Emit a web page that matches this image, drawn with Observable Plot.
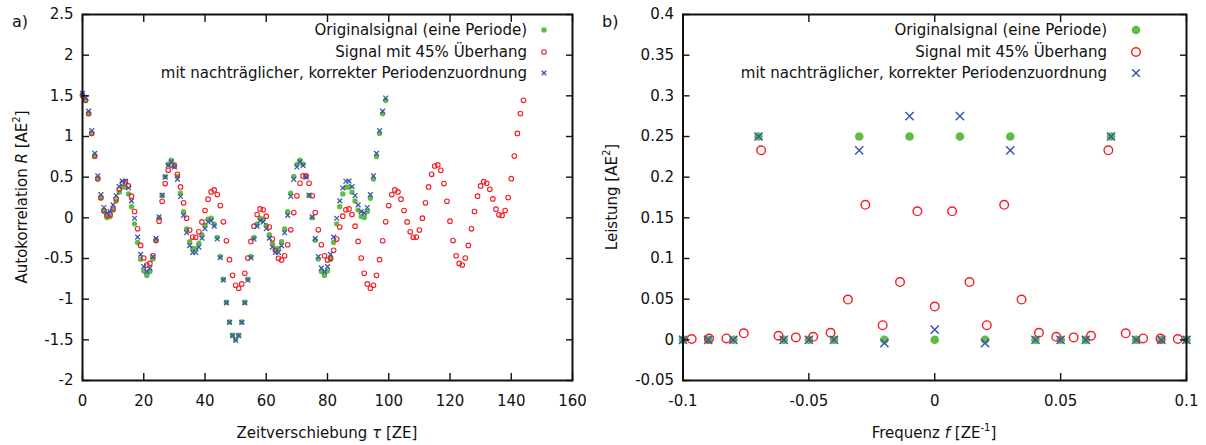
<!DOCTYPE html>
<html><head><meta charset="utf-8">
<script src="https://cdn.jsdelivr.net/npm/d3@7"></script>
<script src="https://cdn.jsdelivr.net/npm/@observablehq/plot@0.6"></script>
<style>
html,body{margin:0;padding:0;background:#fff;}
#wrap{position:relative;width:1206px;height:445px;overflow:hidden;background:#fff;}
#wrap svg{position:absolute;top:0;}
</style></head><body><div id="wrap"></div>
<script>
// ---------- Panel a) autocorrelation ----------
const origR = [1.5,1.443,1.28,1.038,0.755,0.476,0.24,0.078,0.005,0.017,0.095,0.207,0.314,0.379,0.377,0.294,0.136,-0.074,-0.303,-0.509,-0.655,-0.709,-0.659,-0.507,-0.275,0,0.275,0.507,0.659,0.709,0.655,0.509,0.303,0.074,-0.136,-0.294,-0.377,-0.379,-0.314,-0.207,-0.095,-0.017,-0.005,-0.078,-0.24,-0.476,-0.755,-1.038,-1.28,-1.443,-1.5,-1.443,-1.28,-1.038,-0.755,-0.476,-0.24,-0.078,-0.005,-0.017,-0.095,-0.207,-0.314,-0.379,-0.377,-0.294,-0.136,0.074,0.303,0.509,0.655,0.709,0.659,0.507,0.275,0,-0.275,-0.507,-0.659,-0.709,-0.655,-0.509,-0.303,-0.074,0.136,0.294,0.377,0.379,0.314,0.207,0.095,0.017,0.005,0.078,0.24,0.476,0.755,1.038,1.28,1.443];
const overhangR = [1.51,1.445,1.283,1.038,0.76,0.482,0.249,0.09,0.03,0.037,0.106,0.233,0.351,0.425,0.445,0.392,0.266,0.078,-0.135,-0.339,-0.494,-0.58,-0.56,-0.466,-0.28,-0.041,0.204,0.421,0.584,0.65,0.637,0.535,0.38,0.184,-0.004,-0.151,-0.237,-0.24,-0.172,-0.05,0.09,0.229,0.319,0.343,0.286,0.151,-0.049,-0.282,-0.515,-0.707,-0.829,-0.866,-0.813,-0.682,-0.494,-0.29,-0.102,0.041,0.11,0.098,0.02,-0.114,-0.261,-0.4,-0.498,-0.519,-0.466,-0.331,-0.147,0.065,0.27,0.425,0.515,
0.515,0.425,0.27,0.065,-0.147,-0.331,-0.466,-0.519,-0.498,-0.4,-0.261,-0.114,0.02,0.098,0.11,0.041,-0.102,-0.29,-0.494,-0.682,-0.813,-0.866,-0.829,-0.707,-0.515,-0.282,-0.049,0.151,0.286,0.343,0.319,0.229,0.09,-0.05,-0.172,-0.24,-0.237,-0.151,-0.004,0.184,0.38,0.535,0.637,0.65,0.584,0.421,0.204,-0.041,-0.28,-0.466,-0.56,-0.58,-0.494,-0.339,-0.135,0.078,0.266,0.392,0.445,0.425,0.351,0.233,0.106,0.037,0.03,0.09,0.249,0.482,0.76,1.038,1.283,1.445];
const correctedR = [1.53,1.473,1.311,1.071,0.792,0.516,0.285,0.127,0.059,0.076,0.159,0.274,0.384,0.451,0.45,0.367,0.208,-0.005,-0.237,-0.449,-0.6,-0.662,-0.619,-0.476,-0.253,0.013,0.278,0.501,0.644,0.687,0.625,0.474,0.262,0.03,-0.183,-0.342,-0.425,-0.426,-0.359,-0.249,-0.134,-0.051,-0.034,-0.102,-0.26,-0.491,-0.767,-1.046,-1.286,-1.448,-1.505,-1.448,-1.286,-1.046,-0.767,-0.491,-0.26,-0.102,-0.034,-0.051,-0.134,-0.249,-0.359,-0.426,-0.425,-0.342,-0.183,0.03,0.262,0.474,0.625,0.687,0.644,0.501,0.278,0.013,-0.253,-0.476,-0.619,-0.662,-0.6,-0.449,-0.237,-0.005,0.208,0.367,0.45,0.451,0.384,0.274,0.159,0.076,0.059,0.127,0.285,0.516,0.792,1.071,1.311,1.473];
const tauTicks = [0,20,40,60,80,100,120,140,160];
const rTicks = [-2,-1.5,-1,-0.5,0,0.5,1,1.5,2,2.5];

// ---------- Panel b) power spectrum ----------
const freq100 = [-0.1,-0.09,-0.08,-0.07,-0.06,-0.05,-0.04,-0.03,-0.02,-0.01,0,0.01,0.02,0.03,0.04,0.05,0.06,0.07,0.08,0.09,0.1];
const origPower = [0,0,0,0.25,0,0,0,0.25,0,0.25,0,0.25,0,0.25,0,0,0,0.25,0,0,0];
const correctedPower = [0,0,0,0.25,0,0,0,0.233,-0.004,0.275,0.0125,0.275,-0.004,0.233,0,0,0,0.25,0,0,0];
const freq145 = [-0.096552,-0.089655,-0.082759,-0.075862,-0.068966,-0.062069,-0.055172,-0.048276,-0.041379,-0.034483,-0.027586,-0.02069,-0.013793,-0.006897,0,0.006897,0.013793,0.02069,0.027586,0.034483,0.041379,0.048276,0.055172,0.062069,0.068966,0.075862,0.082759,0.089655,0.096552];
const overhangPower = [0.001,0.0015,0.0017,0.008,0.233,0.005,0.003,0.0037,0.0087,0.0495,0.166,0.018,0.071,0.158,0.041,0.158,0.071,0.018,0.166,0.0495,0.0087,0.0037,0.003,0.005,0.233,0.008,0.0017,0.0015,0.001];
const fTicks = [-0.1,-0.05,0,0.05,0.1];
const pTicks = [-0.05,0,0.05,0.1,0.15,0.2,0.25,0.3,0.35,0.4];

const legendLabels = ["Originalsignal (eine Periode)", "Signal mit 45% Überhang", "mit nachträglicher, korrekter Periodenzuordnung"];
const GREEN = "#62bb45", RED = "#f41c24", BLUE = "#3a57b0";
const FONT = "DejaVu Sans, Verdana, sans-serif";
const fmt = d => String(d);

function frameAxes(xt, yt) {
  return [
    Plot.axisX(xt, {anchor: "bottom", tickSize: 0, tickPadding: 15, tickFormat: fmt, label: null}),
    Plot.axisY(yt, {anchor: "left", tickSize: 0, tickPadding: 9, tickFormat: fmt, label: null}),
    Plot.axisX(xt, {anchor: "bottom", tickSize: -7, text: null, label: null, strokeWidth: 1.4}),
    Plot.axisX(xt, {anchor: "top", tickSize: -7, text: null, label: null, strokeWidth: 1.4}),
    Plot.axisY(yt, {anchor: "left", tickSize: -7, text: null, label: null, strokeWidth: 1.4}),
    Plot.axisY(yt, {anchor: "right", tickSize: -7, text: null, label: null, strokeWidth: 1.4}),
    Plot.frame({stroke: "#111", strokeWidth: 2})
  ];
}

const origData = origR.map((r, i) => ({tau: i, r}));
const overData = overhangR.map((r, i) => ({tau: i, r}));
const corrData = correctedR.map((r, i) => ({tau: i, r}));

const pA = Plot.plot({
  width: 600, height: 445,
  marginLeft: 82, marginRight: 28, marginTop: 14, marginBottom: 65,
  x: {domain: [0, 160], label: null},
  y: {domain: [-2, 2.5], label: null},
  style: {fontFamily: FONT, fontSize: "15px", color: "#111", background: "transparent", overflow: "visible"},
  marks: [
    Plot.dot(origData, {x: "tau", y: "r", r: 2.7, fill: GREEN, stroke: null}),
    Plot.dot(overData, {x: "tau", y: "r", r: 2.3, fill: "none", stroke: RED, strokeWidth: 1.1}),
    Plot.dot(corrData, {x: "tau", y: "r", r: 2.3, symbol: "times", stroke: BLUE, strokeWidth: 1.3}),
    ...frameAxes(tauTicks, rTicks)
  ]
});

const pB = Plot.plot({
  width: 606, height: 445,
  marginLeft: 82.5, marginRight: 20, marginTop: 14, marginBottom: 65,
  x: {domain: [-0.1, 0.1], label: null},
  y: {domain: [-0.05, 0.4], label: null},
  style: {fontFamily: FONT, fontSize: "15px", color: "#111", background: "transparent", overflow: "visible"},
  marks: [
    Plot.dot(freq100.map((f, i) => ({f, p: origPower[i]})), {x: "f", y: "p", r: 4.3, fill: GREEN, stroke: null}),
    Plot.dot(freq145.map((f, i) => ({f, p: overhangPower[i]})), {x: "f", y: "p", r: 4.3, fill: "none", stroke: RED, strokeWidth: 1.4}),
    Plot.dot(freq100.map((f, i) => ({f, p: correctedPower[i]})), {x: "f", y: "p", r: 3.8, symbol: "times", stroke: BLUE, strokeWidth: 1.5}),
    ...frameAxes(fTicks, pTicks)
  ]
});

const wrap = document.getElementById("wrap");
pA.style.left = "0px";
pB.style.left = "600px";
wrap.appendChild(pA);
wrap.appendChild(pB);

function addText(svg, x, y, parts, opts = {}) {
  const t = d3.select(svg).append("text")
    .attr("x", x).attr("y", y)
    .attr("font-family", FONT).attr("font-size", opts.size || 15)
    .attr("fill", "#111")
    .attr("text-anchor", opts.anchor || "middle")
    .attr("dominant-baseline", "middle");
  if (opts.rotate) t.attr("transform", `rotate(-90 ${x} ${y})`);
  for (const p of parts) {
    const s = t.append("tspan").text(p.t);
    if (p.i) s.attr("font-style", "italic");
    if (p.sup) s.attr("font-size", 10).attr("baseline-shift", "super");
  }
  return t;
}

function addLegend(svg, textRight, markerX, ys, sizes) {
  const g = d3.select(svg).append("g");
  legendLabels.forEach((lab, i) => {
    g.append("text").attr("x", textRight).attr("y", ys[i])
      .attr("font-family", FONT).attr("font-size", 15).attr("fill", "#111")
      .attr("text-anchor", "end").attr("dominant-baseline", "middle").text(lab);
  });
  g.append("circle").attr("cx", markerX).attr("cy", ys[0]).attr("r", sizes.g).attr("fill", GREEN);
  g.append("circle").attr("cx", markerX).attr("cy", ys[1]).attr("r", sizes.r).attr("fill", "none").attr("stroke", RED).attr("stroke-width", sizes.rw);
  const a = sizes.x;
  g.append("path").attr("d", `M${markerX - a},${ys[2] - a}L${markerX + a},${ys[2] + a}M${markerX - a},${ys[2] + a}L${markerX + a},${ys[2] - a}`)
    .attr("stroke", BLUE).attr("stroke-width", sizes.xw).attr("fill", "none");
}

// Panel a) texts
addText(pA, 12, 22, [{t: "a)"}], {anchor: "start", size: 16});
addText(pA, 22, 197, [{t: "Autokorrelation "}, {t: "R", i: true}, {t: " [AE"}, {t: "2", sup: true}, {t: "]"}], {rotate: true});
addText(pA, 327, 433, [{t: "Zeitverschiebung "}, {t: "τ", i: true}, {t: " [ZE]"}]);
addLegend(pA, 527, 544, [30, 52, 73], {g: 2.7, r: 2.3, rw: 1.1, x: 2.3, xw: 1.3});

// Panel b) texts
addText(pB, 2, 22, [{t: "b)"}], {anchor: "start", size: 16});
addText(pB, 12, 197, [{t: "Leistung [AE"}, {t: "2", sup: true}, {t: "]"}], {rotate: true});
addText(pB, 334, 433, [{t: "Frequenz "}, {t: "f", i: true}, {t: " [ZE"}, {t: "-1", sup: true}, {t: "]"}]);
addLegend(pB, 507, 536, [30, 52, 73], {g: 4.3, r: 4.3, rw: 1.4, x: 3.8, xw: 1.5});
</script>
</body></html>
